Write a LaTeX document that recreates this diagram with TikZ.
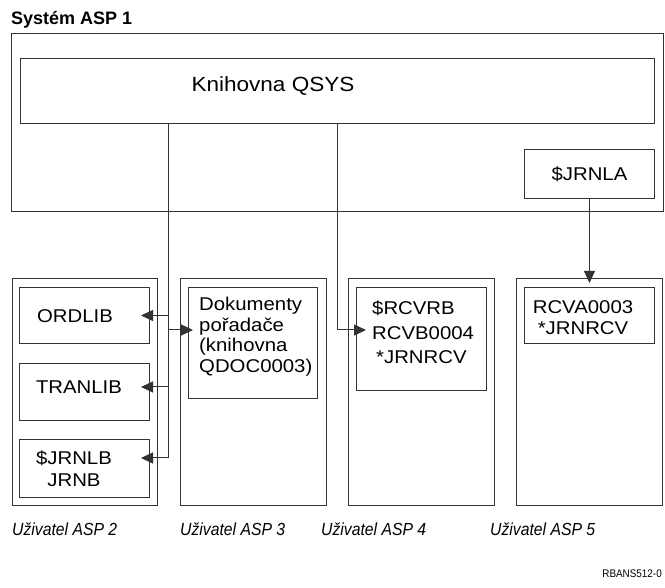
\documentclass[tikz,border=0pt]{standalone}
\usepackage{fontspec}
\setmainfont{Liberation Sans}
\newfontfamily\wideface[FakeStretch=1.1]{Liberation Sans}
\newfontfamily\slimface[FakeStretch=0.9]{Liberation Sans}
\usetikzlibrary{arrows.meta}
\tikzset{
	frame/.style={draw=black!80, line width=1pt, inner sep=0pt, anchor=north west},
	txt/.style={inner sep=0pt, font=\wideface\fontsize{18.5}{21}\selectfont},
	link/.style={draw=black!80, line width=1pt, -{Triangle[length=12pt,width=11pt]}},
	asplabel/.style={inner sep=0pt, anchor=west, font=\slimface\itshape\fontsize{17.5}{20}\selectfont}
}

\begin{document}
\begin{tikzpicture}[x=1pt,y=-1pt]
			%%%%% START %%%%%
			\useasboundingbox (0,0) rectangle (665,588);
			
			\node[inner sep=0pt, anchor=west, font=\bfseries\fontsize{18}{21}\selectfont] (title) at (11,20) {Systém ASP 1};
			
			% system ASP
			\node[frame, minimum width=652pt, minimum height=178pt] (asp1) at (11,33) {};
			\node[frame, minimum width=634pt, minimum height=65pt] (qsys) at (20,58) {};
			\node[txt, font=\wideface\fontsize{20.5}{23}\selectfont] (qsystxt) at (273,86) {Knihovna QSYS};
			\node[frame, minimum width=130pt, minimum height=49pt] (jrnla) at (524,149) {};
			\node[txt] (jrnlatxt) at (jrnla) {\$JRNLA};
			
			% user ASP 2
			\node[frame, minimum width=145pt, minimum height=227pt] (asp2) at (12,278) {};
			\node[frame, minimum width=130pt, minimum height=56pt] (ordlib) at (19,287) {};
			\node[txt] (ordlibtxt) at (75,316) {ORDLIB};
			\node[frame, minimum width=130pt, minimum height=57pt] (tranlib) at (19,363) {};
			\node[txt] (tranlibtxt) at (79,387) {TRANLIB};
			\node[frame, minimum width=130pt, minimum height=58pt] (jrnlb) at (19,439) {};
			\node[txt, align=center, font=\wideface\fontsize{18.5}{22}\selectfont] (jrnlbtxt) at (74,469) {\$JRNLB\\JRNB};
			
			% user ASP 3
			\node[frame, minimum width=146pt, minimum height=227pt] (asp3) at (180,278) {};
			\node[frame, minimum width=129pt, minimum height=111pt] (qdoc) at (188,287) {};
			\node[txt, align=left, anchor=west, font=\wideface\fontsize{18.5}{20.5}\selectfont] (qdoctxt) at (199,336.5) {Dokumenty\\pořadače\\(knihovna\\QDOC0003)};
			
			% user ASP 4
			\node[frame, minimum width=146pt, minimum height=227pt] (asp4) at (348,278) {};
			\node[frame, minimum width=130pt, minimum height=103pt] (rcvb) at (356,287) {};
			\node[txt, align=left, anchor=west, font=\wideface\fontsize{18.5}{24.5}\selectfont] (rcvbtxt) at (372,332.5) {\$RCVRB\\RCVB0004\\\hspace*{4pt}*JRNRCV};
			
			% user ASP 5
			\node[frame, minimum width=146pt, minimum height=227pt] (asp5) at (516,278) {};
			\node[frame, minimum width=130pt, minimum height=56pt] (rcva) at (524,287) {};
			\node[txt, align=center] (rcvatxt) at (583,318) {RCVA0003\\*JRNRCV};
			
			\node[asplabel] (lab2) at (12,529) {Uživatel ASP 2};
			\node[asplabel] (lab3) at (180,529) {Uživatel ASP 3};
			\node[asplabel] (lab4) at (321,529) {Uživatel ASP 4};
			\node[asplabel] (lab5) at (490,529) {Uživatel ASP 5};
			
			\node[inner sep=0pt, anchor=east, font=\slimface\fontsize{11}{13}\selectfont] (figid) at (662,574) {RBANS512-0};
			
			% links
			\coordinate (trunkA) at (168,458);
			\coordinate (trunkB) at (337,330);
			\draw[link, shorten >=-9pt] (qsys.south -| trunkA) -- (trunkA) -- (trunkA -| jrnlb.east);
			\draw[link, shorten >=-9pt] (trunkA |- ordlib.east) -- (ordlib.east);
			\draw[link, shorten >=-9pt] (trunkA |- tranlibtxt) -- (tranlibtxt -| tranlib.east);
			\draw[link, shorten >=-5pt] (trunkA |- trunkB) -- (trunkB -| qdoc.west);
			\draw[link, shorten >=-10pt] (qsys.south -| trunkB) -- (trunkB) -- (trunkB -| rcvb.west);
			\draw[link, shorten >=4pt] (jrnla.south) -- (jrnla.south |- rcva.north);
			
			%%%%% END %%%%%
\end{tikzpicture}
\end{document}
